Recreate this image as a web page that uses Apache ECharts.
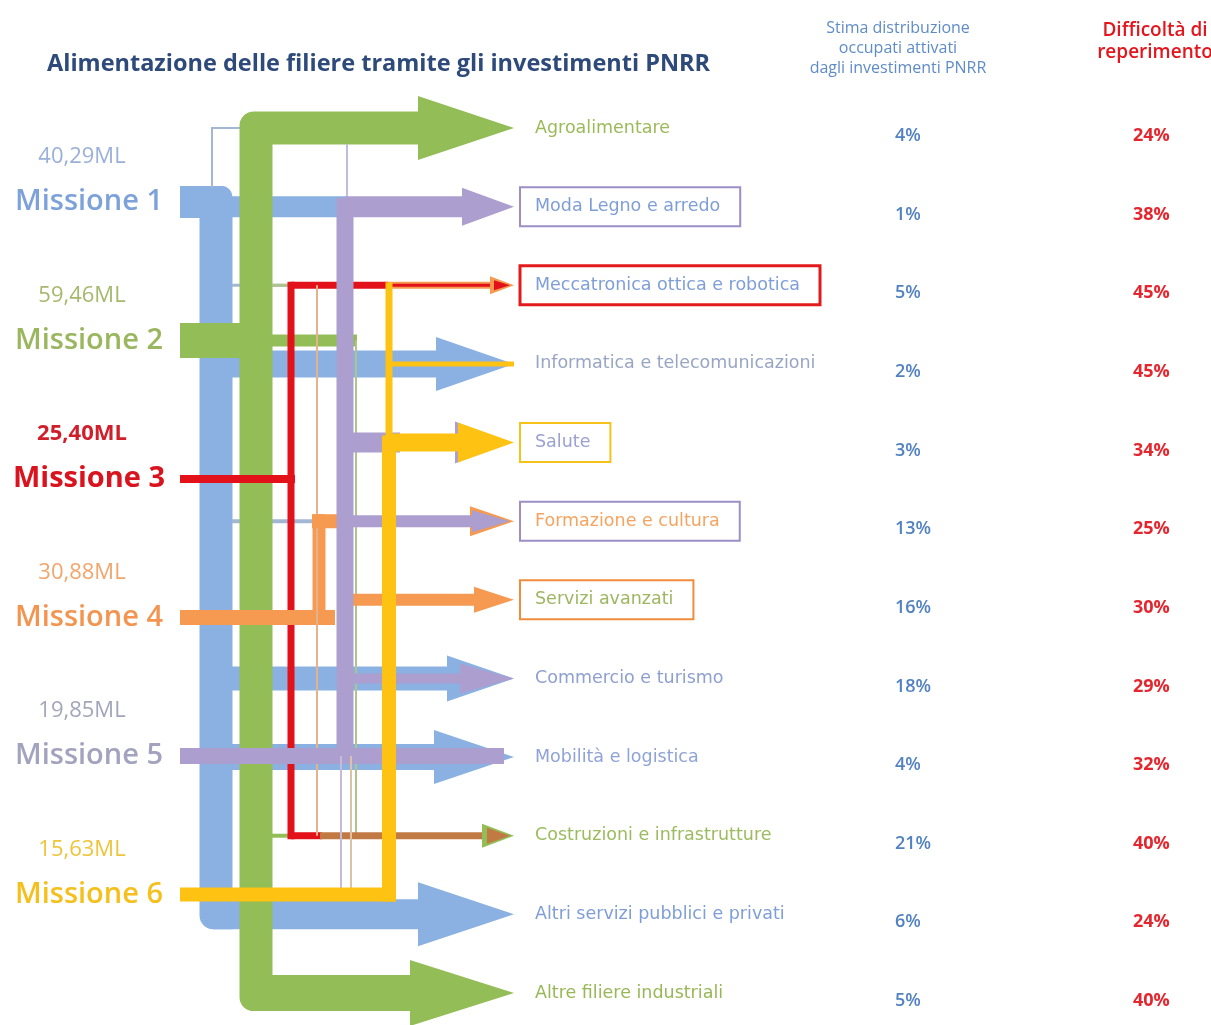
<!DOCTYPE html>
<html><head><meta charset="utf-8">
<script src="https://cdn.jsdelivr.net/npm/echarts@6/dist/echarts.min.js"></script>
<style>html,body{margin:0;padding:0;background:#fff}#c{width:1211px;height:1025px}</style>
</head><body><div id="c"></div>
<script>
// ---------------- DATA ----------------
const chartTitle = 'Alimentazione delle filiere tramite gli investimenti PNRR';
const headerOccupati = ['Stima distribuzione', 'occupati attivati', 'dagli investimenti PNRR'];
const headerDifficolta = ['Difficoltà di', 'reperimento'];
const missions = ['Missione 1', 'Missione 2', 'Missione 3', 'Missione 4', 'Missione 5', 'Missione 6'];
const missionFunds = ['40,29ML', '59,46ML', '25,40ML', '30,88ML', '19,85ML', '15,63ML'];
const sectors = ['Agroalimentare', 'Moda Legno e arredo', 'Meccatronica ottica e robotica',
  'Informatica e telecomunicazioni', 'Salute', 'Formazione e cultura', 'Servizi avanzati',
  'Commercio e turismo', 'Mobilità e logistica', 'Costruzioni e infrastrutture',
  'Altri servizi pubblici e privati', 'Altre filiere industriali'];
const occupati = [4, 1, 5, 2, 3, 13, 16, 18, 4, 21, 6, 5];
const difficolta = [24, 38, 45, 45, 34, 25, 30, 29, 32, 40, 24, 40];
// sectors fed by each mission (indices into sectors)
const flowsM1 = [0, 1, 2, 3, 5, 7, 8, 10];
const flowsM2 = [0, 2, 9, 11];
const flowsM3 = [2, 9];
const flowsM4 = [2, 5, 6, 9];
const flowsM5 = [0, 1, 4, 5, 7, 8, 10];
const flowsM6 = [2, 3, 4];
const flows = [flowsM1, flowsM2, flowsM3, flowsM4, flowsM5, flowsM6];

// ---------------- LAYOUT / STYLE ----------------
const B = '#8AB1E2', BT = '#A3B7D4', G = '#93BD56', GT = '#AFC48C', R = '#E2111A',
      O = '#F59A50', OT = '#E6B28C', P = '#AC9ECF', PT = '#C3BBD9', Y = '#FEC212', BR = '#C27A45';
const TIP = 514;
const mRow = k => 0.941 + 1.761 * k;   // missions spread between the sector rows
const missionColor = ['#7DA2DA', '#9AB65F', '#D9141E', '#F39550', '#A3A3BF', '#F5BF1D'];
const fundColor = ['#9AB0D8', '#A5B86E', '#D01F2A', '#F3A56C', '#A3A6BA', '#EDC43A'];
const sectorColor = ['#9BBB59', '#7F9ED8', '#7F9ED8', '#98A6C4', '#9BA1D0', '#F4A460',
  '#9DB660', '#8FA0D0', '#8FA3D8', '#9CBB5E', '#7F9ED8', '#98B857'];
const sectorBox = {1: ['#9C8FC6', 2], 2: ['#E31A1C', 3], 4: ['#F5C21B', 2], 5: ['#9C8FC6', 2], 6: ['#F08C3C', 2]};

function h(L, c, x0, x1, y, w, r) { L.push({t: 'h', c, x0, x1, y0: y, y1: y, w, r}); }
function v(L, c, x, y0, y1, w, e0, e1, r) { L.push({t: 'v', c, x0: x, x1: x, y0, y1, w, e0, e1, r}); }
function a(L, c, xb, y, hh, tip) { L.push({t: 'a', c, x0: xb, x1: tip || TIP, y0: y, y1: y, w: hh}); }

const BRANCH = [
  { // Missione 1 - blue
    trunk: (L, m) => { h(L, B, 180, 232, m, 32, [0, 10, 0, 0]); v(L, B, 216, m, 10, 33, 16, 15, [12, 12, 0, 14]); },
    0: (L, m, s) => { v(L, BT, 212, s, m, 2, 1, -14); h(L, BT, 211, 244, s, 2); },
    1: (L, m, s) => { h(L, B, 232, 346, s, 21); },
    2: (L, m, s) => { h(L, BT, 232, 292, s, 3); },
    3: (L, m, s) => { h(L, B, 232, 440, s, 27); a(L, B, 436, s, 27); },
    5: (L, m, s) => { h(L, BT, 232, 316, s, 4); },
    7: (L, m, s) => { h(L, B, 232, 450, s, 24); a(L, B, 447, s, 23); },
    8: (L, m, s) => { h(L, B, 232, 440, s, 26); a(L, B, 434, s, 27); },
    10: (L, m, s) => { h(L, B, 200, 422, s, 30, [0, 0, 0, 14]); a(L, B, 418, s, 32); }
  },
  { // Missione 2 - green
    trunk: (L, m) => { v(L, G, 256, 0, 11, 33, 16, 18, [14, 0, 0, 14]); h(L, G, 180, 250, m, 35); h(L, G, 270, 357, m, 12); },
    0: (L, m, s) => { h(L, G, 240, 422, s, 33, [14, 0, 0, 0]); a(L, G, 418, s, 32); },
    2: (L, m, s) => { h(L, GT, 272, 291, s, 3); },
    9: (L, m, s) => { h(L, G, 272, 291, s, 4); v(L, GT, 356, m, s, 2, 0, 0); },
    11: (L, m, s) => { h(L, G, 240, 414, s, 36, [0, 0, 0, 14]); a(L, G, 410, s, 33); }
  },
  { // Missione 3 - red
    trunk: (L, m) => { h(L, R, 180, 295, m, 8); v(L, R, 291, 2, 9, 7, 3.5, 3.5); },
    2: (L, m, s) => { h(L, R, 291, 388, s, 7); h(L, O, 388, 500, s, 7); h(L, R, 388, 496, s, 3); a(L, O, 490, s, 9); a(L, R, 494, s, 5, 510); },
    9: (L, m, s) => { h(L, R, 291, 322, s, 7); }
  },
  { // Missione 4 - orange
    trunk: (L, m) => { h(L, O, 180, 335, m, 15); v(L, O, 319, 5, m, 13, 7, 7); },
    2: (L, m, s) => { v(L, OT, 317, s, 9, 2, 0, 0); },
    5: (L, m, s) => { h(L, O, 312, 346, s, 14); a(L, O, 470, s, 15); },
    6: (L, m, s) => { h(L, O, 340, 478, s, 12); a(L, O, 474, s, 13); },
    9: (L, m, s) => { h(L, BR, 320, 490, s, 7); a(L, G, 482, s, 12); a(L, BR, 487, s, 8, 510); }
  },
  { // Missione 5 - purple
    trunk: (L, m) => { v(L, P, 345, 1, m, 17, 9, 2); },
    0: (L, m, s) => { v(L, PT, 347, s, 1, 2, -16, -9); },
    1: (L, m, s) => { h(L, P, 345, 466, s, 21); a(L, P, 462, s, 19); },
    4: (L, m, s) => { h(L, P, 345, 400, s, 20); a(L, P, 455, s, 21, 508); },
    5: (L, m, s) => { h(L, P, 345, 474, s, 12); a(L, P, 472, s, 11, 510); },
    7: (L, m, s) => { h(L, P, 345, 464, s, 10); a(L, P, 460, s, 15); },
    8: (L, m, s) => { h(L, P, 180, 504, m, 16); },
    10: (L, m, s) => { v(L, PT, 341, m, mRow(5), 2, 0, 0); v(L, '#DDC2A6', 351, m, mRow(5), 2, 0, 0); }
  },
  { // Missione 6 - yellow
    trunk: (L, m) => { h(L, Y, 180, 396, m, 14); v(L, Y, 389, 4, m, 14, 7, 7); },
    2: (L, m, s) => { v(L, Y, 389, s, 4, 7, 3, 0); },
    3: (L, m, s) => { h(L, Y, 389, 514, s, 5); },
    4: (L, m, s) => { h(L, Y, 389, 462, s, 18); a(L, Y, 458, s, 20); }
  }
];

function buildOps(k) {
  const L = [];
  const m = mRow(k);
  BRANCH[k].trunk(L, m);
  flows[k].forEach(s => { if (BRANCH[k][s]) BRANCH[k][s](L, m, s); });
  return L;
}

function flowSeries(k) {
  const ops = buildOps(k);
  return {
    type: 'custom', name: missions[k], coordinateSystem: 'cartesian2d', silent: true,
    encode: {x: [0, 2], y: [1, 3]},
    data: ops.map((o, i) => [o.x0, o.y0, o.x1, o.y1, i]),
    renderItem: function (params, api) {
      const o = ops[api.value(4)];
      const p0 = api.coord([api.value(0), api.value(1)]);
      const p1 = api.coord([api.value(2), api.value(3)]);
      if (o.t === 'h') {
        return {type: 'rect', shape: {x: p0[0], y: p0[1] - o.w / 2, width: p1[0] - p0[0], height: o.w, r: o.r || 0}, style: {fill: o.c}};
      }
      if (o.t === 'v') {
        const e0 = o.e0 == null ? o.w / 2 : o.e0, e1 = o.e1 == null ? o.w / 2 : o.e1;
        return {type: 'rect', shape: {x: p0[0] - o.w / 2, y: p0[1] - e0, width: o.w, height: p1[1] - p0[1] + e0 + e1, r: o.r || 0}, style: {fill: o.c}};
      }
      return {type: 'polygon', shape: {points: [[p0[0], p0[1] - o.w], [p1[0], p1[1]], [p0[0], p0[1] + o.w]]}, style: {fill: o.c}};
    }
  };
}

function textSeries(points, styler) {
  return {
    type: 'custom', coordinateSystem: 'cartesian2d', silent: true,
    encode: {x: 0, y: 1},
    data: points,
    renderItem: function (params, api) {
      const i = params.dataIndex;
      const p = api.coord([api.value(0), api.value(1)]);
      const st = styler(i);
      return {type: 'text', x: p[0], y: p[1] + (st.dy || 0), style: st.style};
    }
  };
}

const LABEL_X = 520, OCC_X = 895, DIF_X = 1133, MISSION_X = 89, FUND_X = 82;

const series = [];
for (let k = 0; k < 6; k++) series.push(flowSeries(k));

// sector labels
series.push(textSeries(sectors.map((s, i) => [LABEL_X, i]), i => {
  const bx = sectorBox[i];
  return {style: {
    text: sectors[i], fill: sectorColor[i], font: '17.5px "DejaVu Sans"', align: 'left', verticalAlign: 'middle',
    padding: [11, 20, 10, 15], borderColor: bx ? bx[0] : null, borderWidth: bx ? bx[1] : 0
  }};
}));
// occupati %
series.push(textSeries(occupati.map((v, i) => [OCC_X, i]), i => ({
  dy: 8, style: {text: occupati[i] + '%', fill: '#5282C2', font: '600 18px "Open Sans"', align: 'left', verticalAlign: 'middle'}
})));
// difficoltà %
series.push(textSeries(difficolta.map((v, i) => [DIF_X, i]), i => ({
  dy: 8, style: {text: difficolta[i] + '%', fill: '#E4262E', font: '700 18px "Open Sans"', align: 'left', verticalAlign: 'middle'}
})));
// mission labels
series.push(textSeries(missions.map((m, k) => [MISSION_X, mRow(k)]), k => ({
  style: {text: missions[k], fill: missionColor[k], font: (k === 2 ? '700' : '600') + ' 29px "Open Sans"', align: 'center', verticalAlign: 'middle'}
})));
// mission funds
series.push(textSeries(missionFunds.map((m, k) => [FUND_X, mRow(k)]), k => ({
  dy: -45, style: {text: missionFunds[k], fill: fundColor[k], font: (k === 2 ? '700' : '400') + ' 22px "Open Sans"', align: 'center', verticalAlign: 'middle'}
})));

const chart = echarts.init(document.getElementById('c'), null, {renderer: 'canvas'});
chart.setOption({
  animation: false,
  backgroundColor: '#ffffff',
  title: [
    {text: chartTitle, left: 42, top: 47, textStyle: {fontFamily: 'Open Sans', fontWeight: 700, fontSize: 23.5, color: '#2D4A7A'}},
    {text: headerOccupati.join('\n'), left: 893, top: 13, textAlign: 'center',
      textStyle: {fontFamily: 'Open Sans', fontWeight: 400, fontSize: 16, lineHeight: 20, color: '#5F8CC8'}},
    {text: headerDifficolta.join('\n'), left: 1150, top: 15, textAlign: 'center',
      textStyle: {fontFamily: 'Open Sans', fontWeight: 600, fontSize: 19, lineHeight: 22, color: '#E3151D'}}
  ],
  grid: {left: 0, right: 0, top: 0, bottom: 0},
  xAxis: {type: 'value', min: 0, max: 1211, show: false},
  yAxis: {type: 'value', min: -1.628, max: 11.407, inverse: true, show: false},
  series: series
});
</script>
</body></html>
